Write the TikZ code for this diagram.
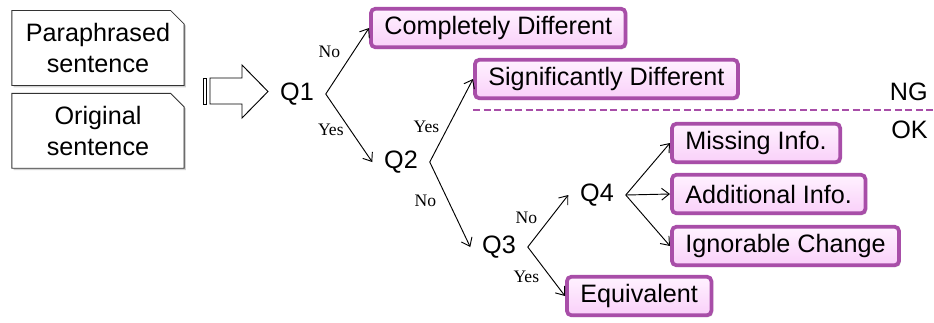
\documentclass[tikz,border=0pt]{standalone}
\usepackage{fontspec}
\setmainfont{Liberation Sans}
\newfontfamily\lblfont{Liberation Serif}
\usetikzlibrary{shapes.misc,arrows.meta,positioning,shadows}
\definecolor{resline}{RGB}{168,78,168}
\definecolor{restop}{RGB}{255,242,255}
\definecolor{resbot}{RGB}{249,208,249}

\begin{document}
\begin{tikzpicture}[
  x=0.03cm,y=-0.03cm,
  src/.style={chamfered rectangle,chamfered rectangle corners=north east,
    chamfered rectangle xsep=8pt,draw=black!80,line width=0.7pt,fill=white,
    minimum width=147pt,minimum height=64pt,align=center,
    font=\fontsize{21.5}{26.5}\selectfont,
    drop shadow={shadow xshift=1.5pt,shadow yshift=-1.5pt,fill=black!35}},
  res/.style={rectangle,rounded corners=4pt,draw=resline,line width=3.2pt,
    top color=restop,bottom color=resbot,inner xsep=11.5pt,minimum height=33pt,
    anchor=west,font=\fontsize{21.5}{25}\selectfont,
    drop shadow={shadow xshift=1.5pt,shadow yshift=-1.5pt,fill=black!30}},
  qn/.style={inner xsep=10pt,font=\fontsize{21.5}{25}\selectfont},
  lbl/.style={font=\lblfont\fontsize{15}{17}\selectfont,inner sep=0pt},
  arr/.style={-{Straight Barb[length=6.5pt,width=10pt]},line width=0.8pt}
]
\useasboundingbox (0,0) rectangle (934,322);

% input sentences
\node[src] (para) at (98,48) {Paraphrased\\sentence};
\node[src,below=6pt of para] (orig) {Original\\sentence};

% block arrow
\draw[line width=0.8pt,fill=white] (210,78) -- (242,78) -- (242,65) -- (268,91.5)
  -- (242,118) -- (242,104) -- (210,104) -- cycle;
\draw[line width=0.8pt] (203,78) rectangle (206.5,104);

% questions
\node[qn] (q1) at (297,94) {Q1};
\node[qn] (q2) at (401,162) {Q2};
\node[qn] (q3) at (499,247) {Q3};
\node[qn] (q4) at (597,195) {Q4};

% results
\node[res] (cd) at (369,28) {Completely Different};
\node[res] (sd) at (473,79) {Significantly Different};
\node[res] (mi) at (670,143) {Missing Info.};
\node[res] (ai) at (670,194) {Additional Info.};
\node[res] (ic) at (670,246) {Ignorable Change};
\node[res] (eq) at (565,296) {Equivalent};

% NG / OK border
\coordinate (ngr) at (934,110);
\draw[resline,line width=1.6pt,dash pattern=on 6pt off 3pt] (sd.west |- ngr) -- (ngr);
\node[qn,anchor=east,inner xsep=0pt] (ng) at (928,92) {NG};
\node[qn,anchor=east,inner xsep=0pt] (ok) at (928,130) {OK};

\draw[arr] (q1.east) -- node[lbl,pos=0.64,left=11pt] {No} (cd.west);
\draw[arr] (q1.east) -- node[lbl,pos=0.52,left=5pt] {Yes} (q2.west);
\draw[arr] (q2.east) -- node[lbl,pos=0.42,left=7pt] {Yes} (sd.west);
\draw[arr] (q2.east) -- node[lbl,pos=0.46,left=10pt] {No} (q3.west);
\draw[arr] (q3.east) -- node[lbl,pos=0.56,left=11pt] {No} (q4.west);
\draw[arr] (q3.east) -- node[lbl,pos=0.6,left=9pt] {Yes} (eq.west);
\draw[arr] (q4.east) -- (mi.west);
\draw[arr] (q4.east) -- (ai.west);
\draw[arr] (q4.east) -- (ic.west);
\end{tikzpicture}
\end{document}
